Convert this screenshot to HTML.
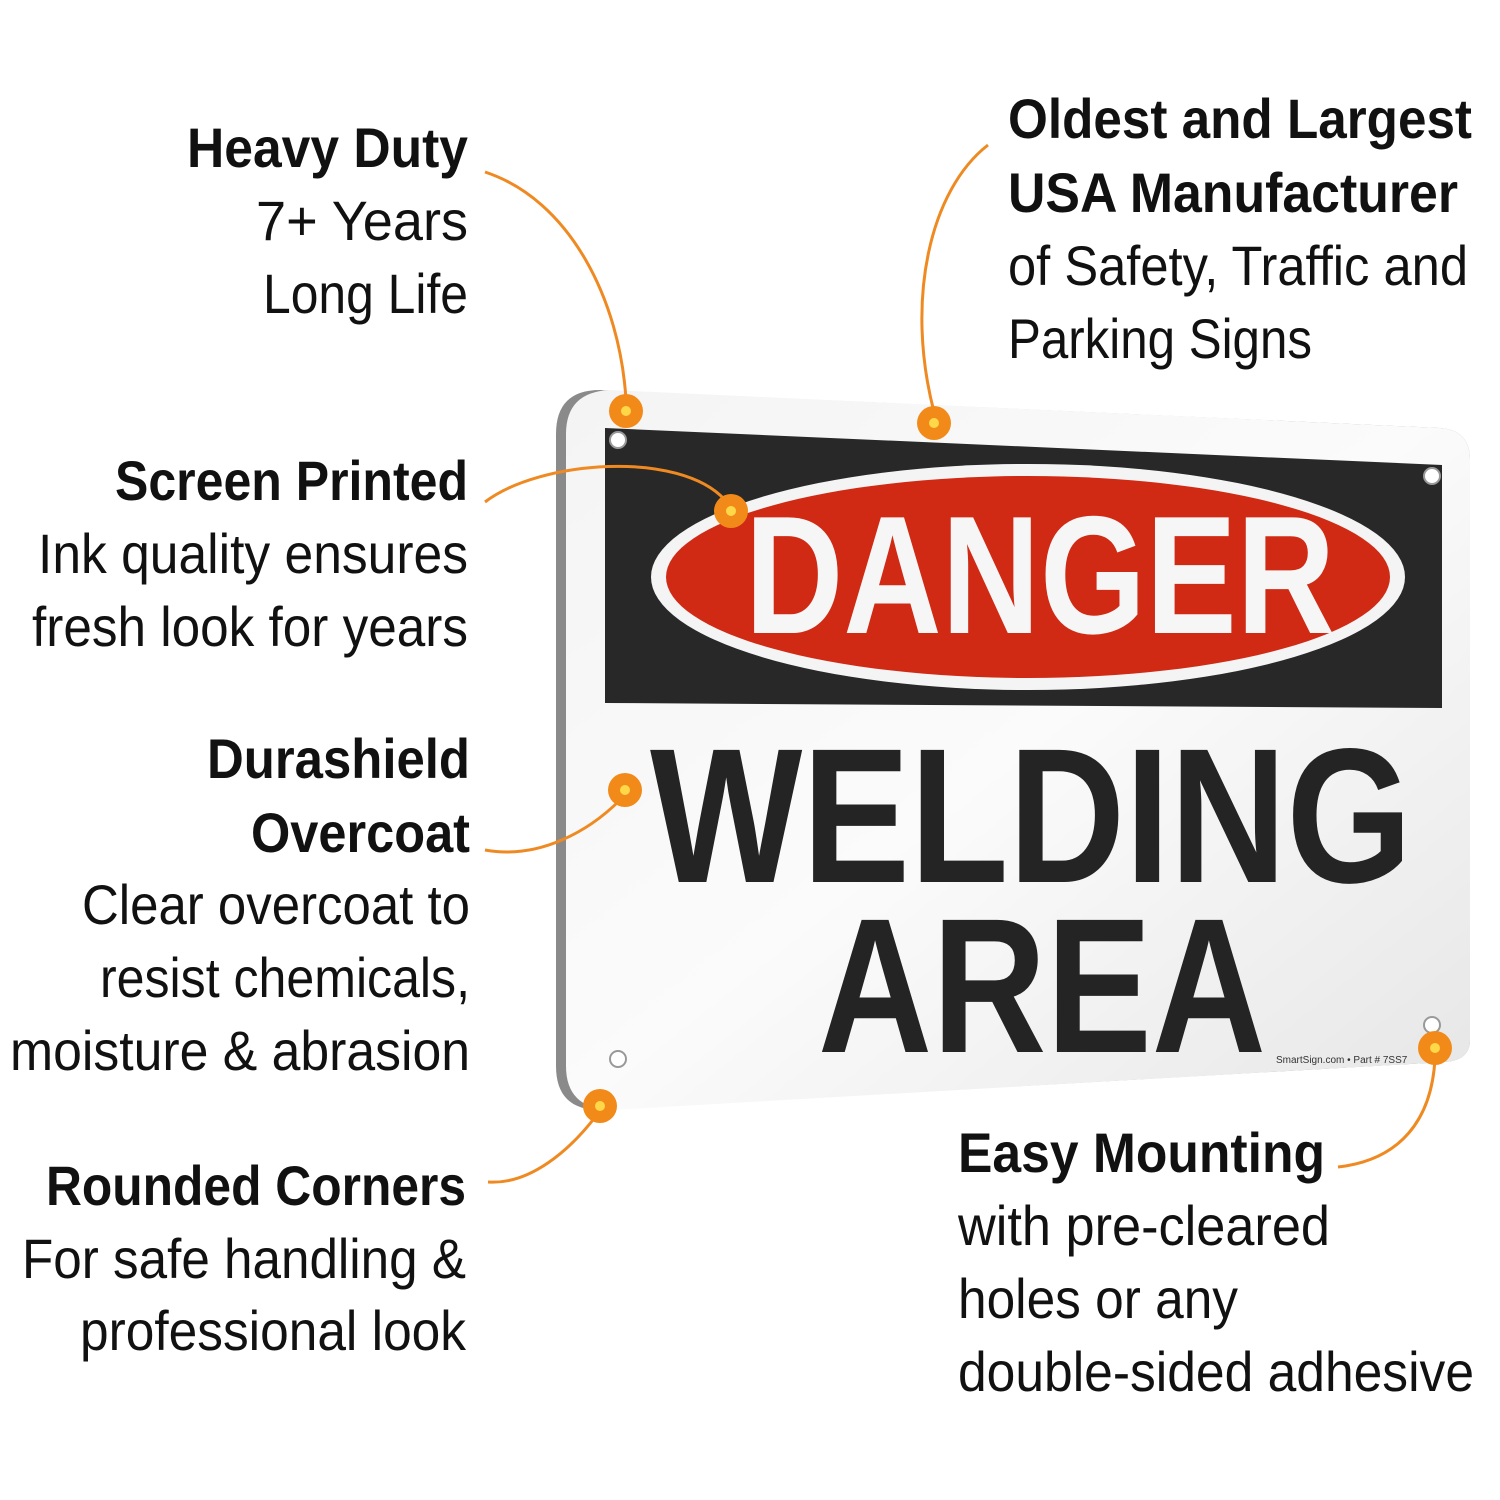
<!DOCTYPE html>
<html><head><meta charset="utf-8"><style>
html,body{margin:0;padding:0;background:#fff;width:1500px;height:1500px;overflow:hidden}
svg{display:block}
.t{font-family:"Liberation Sans",sans-serif;font-size:56px;fill:#111}
.b{font-weight:bold}
</style></head><body>
<svg width="1500" height="1500" viewBox="0 0 1500 1500">
<defs>
<linearGradient id="g" x1="0" y1="0" x2="1" y2="1">
<stop offset="0" stop-color="#f4f4f4"/><stop offset="0.5" stop-color="#fbfbfb"/><stop offset="1" stop-color="#e6e6e6"/>
</linearGradient>
</defs>
<!-- sign edge -->
<path d="M600,390 L1440,428 Q1470,430 1470,460 L1470,1040 Q1470,1060 1445,1062 L600,1110 Q556,1110 556,1066 L556,434 Q556,390 600,390 Z" fill="#8a8a8a"/>
<path d="M610,390 L1440,428 Q1470,430 1470,460 L1470,1040 Q1470,1060 1445,1062 L610,1110 Q566,1108 566,1066 L566,434 Q566,392 610,390 Z" fill="url(#g)"/>
<!-- black band -->
<polygon points="605,428 1442,465 1442,708 605,703" fill="#282828"/>
<ellipse cx="1028" cy="577" rx="377" ry="113" fill="#f4f4f4"/>
<ellipse cx="1028" cy="577" rx="362" ry="101" fill="#d02a15"/>
<text x="745" y="633" font-family="Liberation Sans,sans-serif" font-weight="bold" font-size="168" fill="#f6f6f6" textLength="590" lengthAdjust="spacingAndGlyphs">DANGER</text>
<text x="650" y="882" font-family="Liberation Sans,sans-serif" font-weight="bold" font-size="192" fill="#242424" textLength="762" lengthAdjust="spacingAndGlyphs">WELDING</text>
<text x="818" y="1052" font-family="Liberation Sans,sans-serif" font-weight="bold" font-size="192" fill="#242424" textLength="448" lengthAdjust="spacingAndGlyphs">AREA</text>
<text x="1276" y="1063" font-family="Liberation Sans,sans-serif" font-size="10" fill="#333">SmartSign.com • Part # 7SS7</text>
<!-- holes -->
<g fill="#fff" stroke="#999" stroke-width="2">
<circle cx="618" cy="440" r="8"/><circle cx="1432" cy="476" r="8"/><circle cx="618" cy="1059" r="8"/><circle cx="1432" cy="1025" r="8"/>
</g>
<!-- connectors -->
<g fill="none" stroke="#ef8a22" stroke-width="3">
<path d="M485,172 C570,200 620,300 626,400"/>
<path d="M988,145 C930,190 905,300 934,412"/>
<path d="M485,502 C540,460 680,450 725,500"/>
<path d="M485,850 C540,860 590,830 620,800"/>
<path d="M488,1182 C530,1185 570,1150 596,1116"/>
<path d="M1338,1167 C1400,1160 1432,1120 1435,1058"/>
</g>
<g>
<g fill="#f28a1a"><circle cx="626" cy="411" r="17"/><circle cx="934" cy="423" r="17"/><circle cx="731" cy="511" r="17"/><circle cx="625" cy="790" r="17"/><circle cx="600" cy="1106" r="17"/><circle cx="1435" cy="1048" r="17"/></g>
<g fill="#ffd84a"><circle cx="626" cy="411" r="5"/><circle cx="934" cy="423" r="5"/><circle cx="731" cy="511" r="5"/><circle cx="625" cy="790" r="5"/><circle cx="600" cy="1106" r="5"/><circle cx="1435" cy="1048" r="5"/></g>
</g>
<!-- left labels -->
<g class="t" text-anchor="end">
<text class="b" x="468" y="167">Heavy Duty</text>
<text x="468" y="240">7+ Years</text>
<text x="468" y="313">Long Life</text>
<text class="b" x="468" y="500">Screen Printed</text>
<text x="468" y="573">Ink quality ensures</text>
<text x="468" y="646">fresh look for years</text>
<text class="b" x="470" y="778">Durashield</text>
<text class="b" x="470" y="852">Overcoat</text>
<text x="470" y="924">Clear overcoat to</text>
<text x="470" y="997">resist chemicals,</text>
<text x="470" y="1070">moisture &amp; abrasion</text>
<text class="b" x="466" y="1205">Rounded Corners</text>
<text x="466" y="1278">For safe handling &amp;</text>
<text x="466" y="1350">professional look</text>
</g>
<g class="t" lengthAdjust="spacingAndGlyphs">
<text class="b" x="1008" y="138" textLength="464" lengthAdjust="spacingAndGlyphs">Oldest and Largest</text>
<text class="b" x="1008" y="212" textLength="450" lengthAdjust="spacingAndGlyphs">USA Manufacturer</text>
<text x="1008" y="285" textLength="460" lengthAdjust="spacingAndGlyphs">of Safety, Traffic and</text>
<text x="1008" y="358" textLength="304" lengthAdjust="spacingAndGlyphs">Parking Signs</text>
<text class="b" x="958" y="1172" textLength="367" lengthAdjust="spacingAndGlyphs">Easy Mounting</text>
<text x="958" y="1245" textLength="372" lengthAdjust="spacingAndGlyphs">with pre-cleared</text>
<text x="958" y="1318" textLength="280" lengthAdjust="spacingAndGlyphs">holes or any</text>
<text x="958" y="1391" textLength="516" lengthAdjust="spacingAndGlyphs">double-sided adhesive</text>
</g>
</svg>
<script>
// fit left labels to measured widths
var w={"Heavy Duty":281,"7+ Years":212,"Long Life":205,"Screen Printed":353,"Ink quality ensures":430,"fresh look for years":436,"Durashield":263,"Overcoat":219,"Clear overcoat to":388,"resist chemicals,":370,"moisture & abrasion":460,"Rounded Corners":420,"For safe handling &":444,"professional look":386};
document.querySelectorAll('g[text-anchor=end] text').forEach(function(t){var v=w[t.textContent];if(v){t.setAttribute('textLength',v);t.setAttribute('lengthAdjust','spacingAndGlyphs');}});
</script>
</body></html>
